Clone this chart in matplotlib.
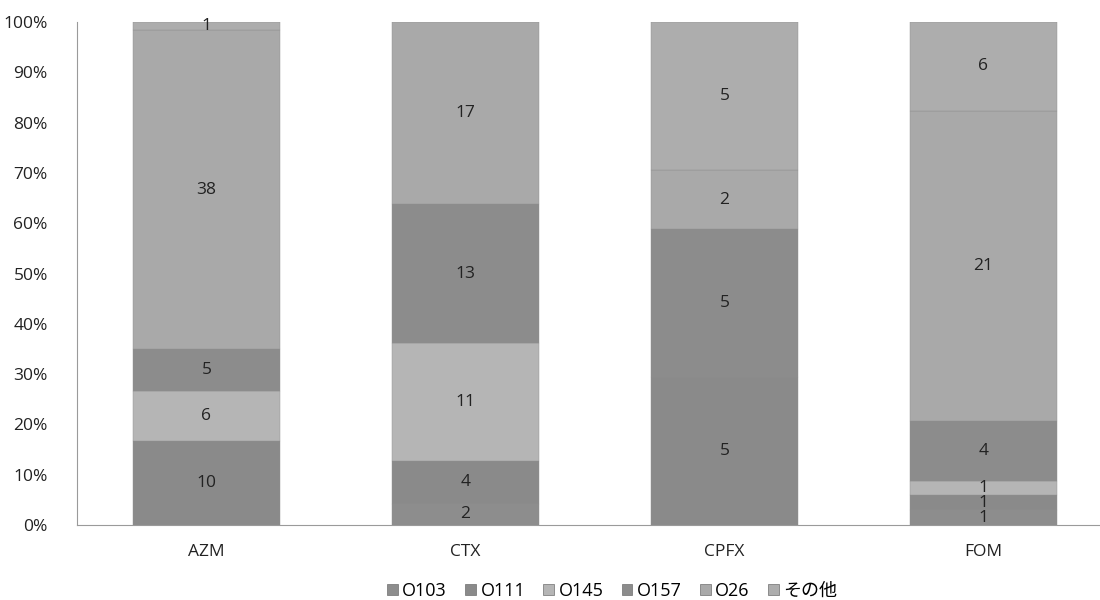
import matplotlib
matplotlib.use("Agg")
import matplotlib.pyplot as plt
from matplotlib.patches import Patch
import numpy as np

plt.rcParams['font.family'] = ['Open Sans', 'Noto Sans CJK JP', 'DejaVu Sans']

categories = ["AZM", "CTX", "CPFX", "FOM"]
series = ["O103", "O111", "O145", "O157", "O26", "その他"]

o103 = [0, 2, 0, 1]
o111 = [10, 4, 5, 1]
o145 = [6, 11, 0, 1]
o157 = [5, 13, 5, 4]
o26 = [38, 17, 2, 21]
other = [1, 0, 5, 6]

colors = ["#8d8d8d", "#8a8a8a", "#b5b5b5", "#8c8c8c", "#a9a9a9", "#adadad"]

counts = np.array([o103, o111, o145, o157, o26, other], dtype=float)
totals = counts.sum(axis=0)
shares = counts / totals * 100

fig = plt.figure(figsize=(11, 6), dpi=100)
ax = fig.add_axes([77 / 1100, 75 / 600, 1 - 77 / 1100, (525 - 22) / 600])

x = np.arange(len(categories))
bottom = np.zeros(len(categories))
for name, vals, pct, col in zip(series, counts, shares, colors):
    bars = ax.bar(x, pct, width=0.565, bottom=bottom, color=col,
                  edgecolor="#8f8f8f", linewidth=0.3, label=name)
    for bar, v in zip(bars, vals):
        if v == 0:
            bar.set_visible(False)
    for xi, v, p, b in zip(x, vals, pct, bottom):
        if v > 0:
            ax.text(xi, b + p / 2, f"{int(v)}", ha="center", va="center",
                    fontsize=12.5, color="#222222")
    bottom += pct

ax.set_xlim(-0.5, 3.45)
ax.set_ylim(0, 100)
ax.set_yticks(np.arange(0, 101, 10))
ax.set_yticklabels([f"{t}%" for t in range(0, 101, 10)])
ax.set_xticks(x)
ax.set_xticklabels(categories)
ax.tick_params(axis="both", length=0, labelsize=12.5, colors="#222222")
ax.tick_params(axis="y", pad=21)
ax.tick_params(axis="x", pad=14)

for side in ["top", "right"]:
    ax.spines[side].set_visible(False)
for side in ["left", "bottom"]:
    ax.spines[side].set_color("#9a9a9a")
    ax.spines[side].set_linewidth(0.8)

legend_handles = [Patch(facecolor=c, edgecolor="#6f6f6f", linewidth=0.5)
                  for c in colors]
fig.legend(handles=legend_handles, labels=series, loc="center",
           bbox_to_anchor=(612 / 1100, 1 - 591 / 600), ncol=6, frameon=False,
           fontsize=13, handlelength=0.6, handleheight=0.6, handletextpad=0.25,
           columnspacing=1.0)

fig.savefig("out.png", dpi=100)
